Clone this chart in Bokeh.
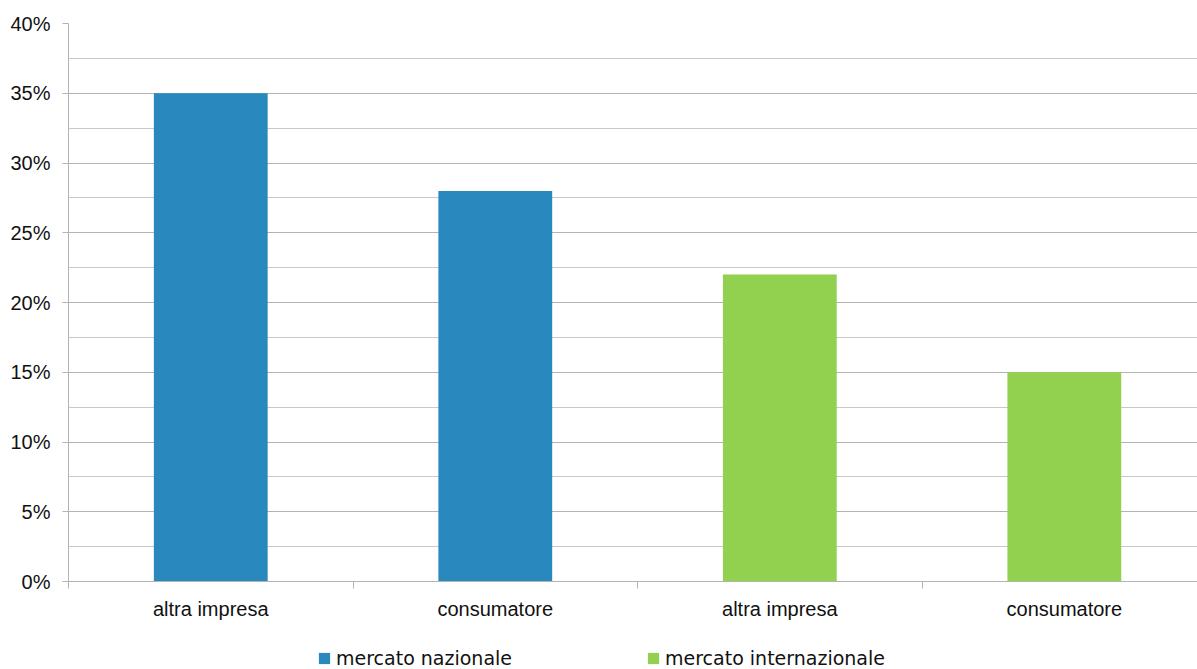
from bokeh.plotting import figure
from bokeh.layouts import column
from bokeh.models import ColumnDataSource, FixedTicker, Legend, LegendItem
from bokeh.embed import file_html
from bokeh.resources import INLINE

categories = ["altra impresa", "consumatore", "altra impresa", "consumatore"]
series_names = ["mercato nazionale", "mercato internazionale"]
values = [0.35, 0.28, 0.22, 0.15]
series_of_bar = [0, 0, 1, 1]
colors = ["#2989bf", "#92d050"]
y_ticks = [0.0, 0.05, 0.10, 0.15, 0.20, 0.25, 0.30, 0.35, 0.40]
y_labels = ["0%", "5%", "10%", "15%", "20%", "25%", "30%", "35%", "40%"]

p = figure(width=1197, height=622, output_backend="svg", toolbar_location=None,
           x_range=(0, 3.968), y_range=(0, 0.40),
           min_border_left=68, min_border_top=23, min_border_bottom=40, min_border_right=0)
p.outline_line_color = None
p.background_fill_color = "white"
p.border_fill_color = "white"

sources = []
for s in range(2):
    xs = [i + 0.5 for i in range(len(values)) if series_of_bar[i] == s]
    ys = [values[i] for i in range(len(values)) if series_of_bar[i] == s]
    src = ColumnDataSource(dict(x=xs, top=ys))
    sources.append(src)
    p.vbar(x="x", top="top", width=0.4, bottom=0, source=src,
           fill_color=colors[s], line_color=None)

# y axis
p.yaxis.ticker = FixedTicker(ticks=y_ticks, minor_ticks=[0.025 + 0.05 * i for i in range(8)])
p.yaxis.major_label_overrides = {t: l for t, l in zip(y_ticks, y_labels)}
p.yaxis.axis_line_color = "#b3b3b3"
p.yaxis.major_tick_line_color = "#b3b3b3"
p.yaxis.major_tick_out = 6
p.yaxis.major_tick_in = 0
p.yaxis.minor_tick_line_color = None
p.yaxis.major_label_standoff = 12
p.yaxis.major_label_text_font = "Liberation Sans"
p.yaxis.major_label_text_font_size = "20px"
p.yaxis.major_label_text_color = "#111111"

# x axis
centers = [i + 0.5 for i in range(len(categories))]
p.xaxis.ticker = FixedTicker(ticks=centers, minor_ticks=[0, 1, 2, 3, 4])
p.xaxis.major_label_overrides = {c: l for c, l in zip(centers, categories)}
p.xaxis.axis_line_color = "#b3b3b3"
p.xaxis.major_tick_line_color = None
p.xaxis.major_tick_out = 0
p.xaxis.major_tick_in = 0
p.xaxis.minor_tick_line_color = "#b3b3b3"
p.xaxis.minor_tick_out = 7
p.xaxis.minor_tick_in = 0
p.xaxis.major_label_standoff = 9
p.xaxis.major_label_text_font = "Liberation Sans"
p.xaxis.major_label_text_font_size = "20px"
p.xaxis.major_label_text_color = "#111111"

p.xgrid.grid_line_color = None
p.ygrid.grid_line_color = "#b3b3b3"
p.ygrid.minor_grid_line_color = "#c8c8c8"

# legend strip below the chart (its bars lie far outside its visible ranges)
lg = figure(width=1197, height=47, output_backend="svg", toolbar_location=None,
            x_range=(1000, 1010), y_range=(5, 6), x_axis_location=None, y_axis_location=None,
            min_border=0)
lg.outline_line_color = None
lg.xgrid.grid_line_color = None
lg.ygrid.grid_line_color = None
lg.border_fill_color = "white"
lg.background_fill_color = "white"
legend_renderers = []
for s in range(2):
    r = lg.vbar(x="x", top="top", width=0.4, bottom=0, source=sources[s],
                fill_color=colors[s], line_color=None)
    legend_renderers.append(r)

legend = Legend(items=[LegendItem(label=series_names[i], renderers=[legend_renderers[i]]) for i in range(2)],
                orientation="horizontal", location=(249, 0),
                padding=0, margin=0, spacing=134, label_standoff=5,
                glyph_width=14, glyph_height=14,
                label_text_font="DejaVu Sans", label_text_font_size="19px",
                label_text_color="#111111",
                border_line_color=None, background_fill_alpha=0)
lg.add_layout(legend, "center")

layout = column(p, lg, spacing=0)
open("out.html", "w").write(file_html(layout, INLINE))
